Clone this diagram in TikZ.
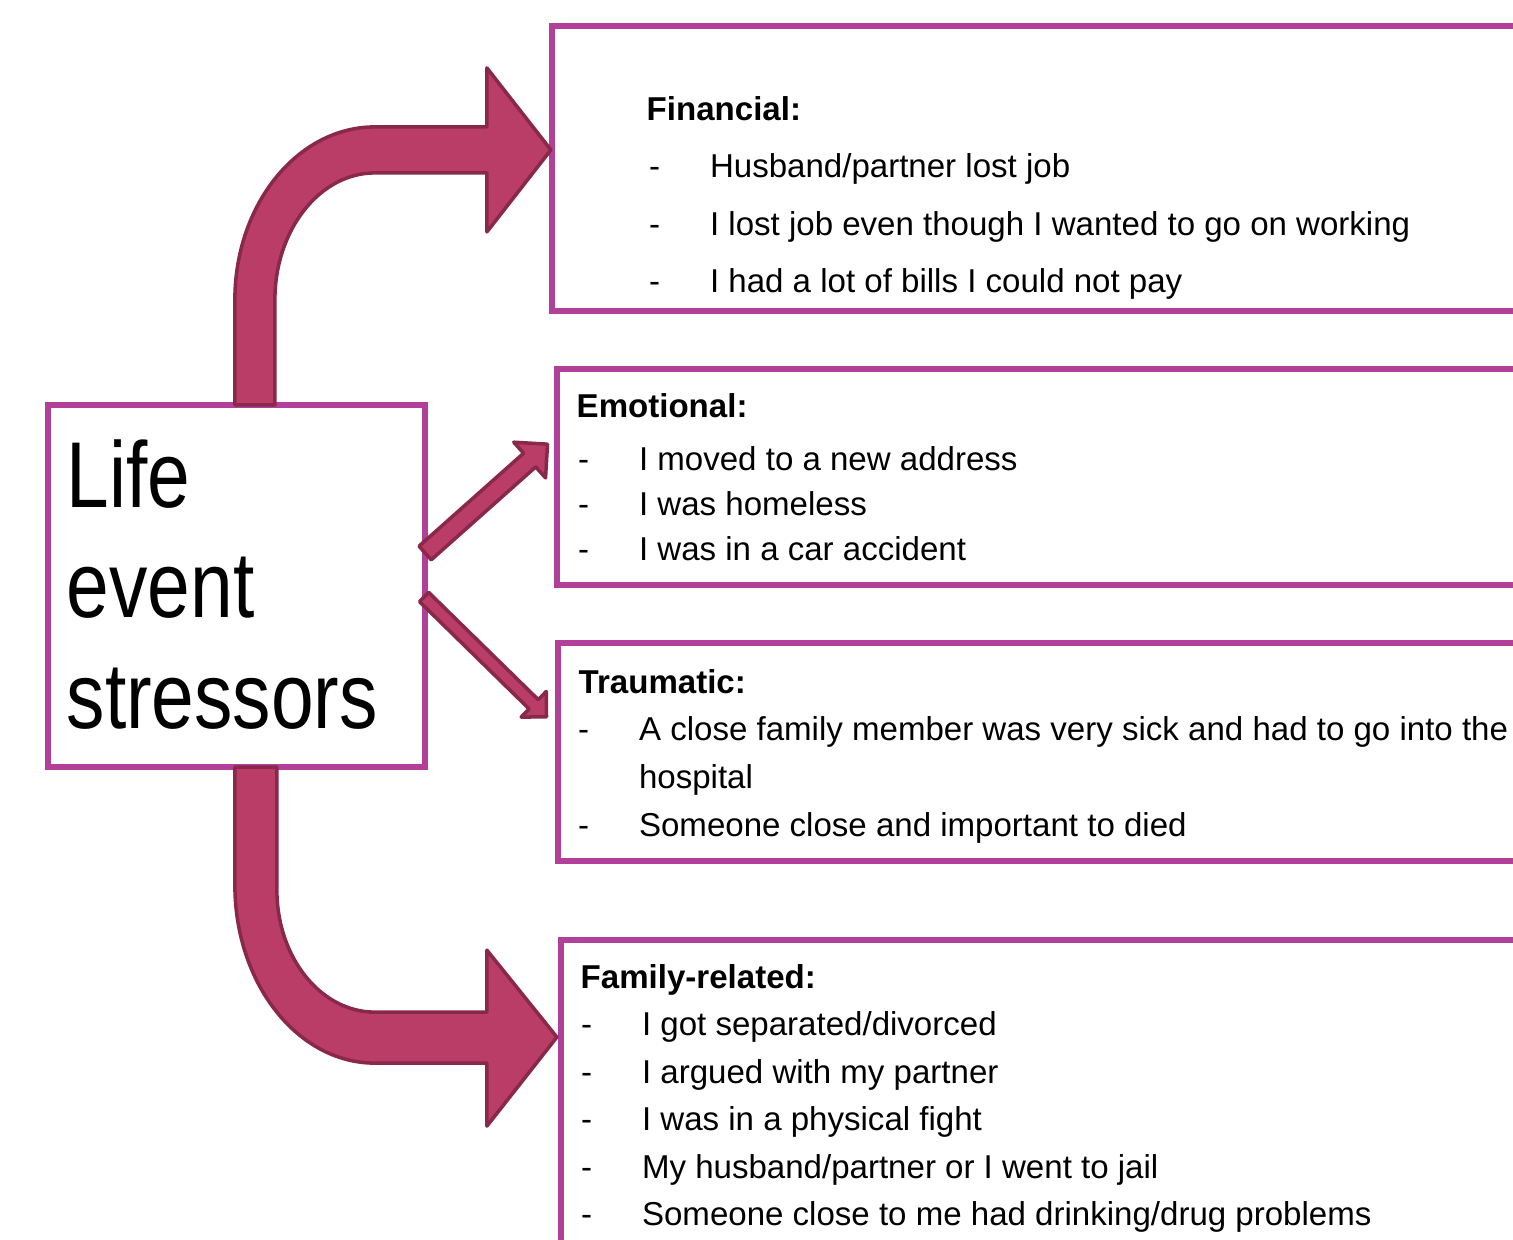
\documentclass[tikz,border=0pt]{standalone}
\usepackage{fontspec}
\setmainfont{Liberation Sans}
\newfontfamily\narrowfont[FakeStretch=0.82]{Liberation Sans}
\usetikzlibrary{calc}

\definecolor{boxPurple}{RGB}{178,64,154}
\definecolor{arrowFill}{RGB}{185,61,102}
\definecolor{arrowLine}{RGB}{137,40,73}

% straight block arrow: from, to, half shaft, half head, head length
\newcommand{\blockarrow}[5]{%
  \path[thinArrow] let \p1=(#1), \p2=(#2),
      \n1={atan2(\y2-\y1,\x2-\x1)}, \n2={veclen(\x2-\x1,\y2-\y1)} in
    [shift={(\p1)}, rotate=\n1]
    (0pt,#3) -- ({\n2-#5},#3) -- ({\n2-#5},#4) -- ({\n2*1pt},0pt)
    -- ({\n2-#5},-#4) -- ({\n2-#5},-#3) -- (0pt,-#3) -- cycle;}

\begin{document}
\begin{tikzpicture}[x=0.01cm, y=-0.01cm]
    \tikzstyle{catBox} = [rectangle, draw=boxPurple, line width=1.7pt, fill=white,
                          inner sep=0pt, outer sep=0pt]
    \tikzstyle{bendArrow} = [fill=arrowFill, draw=arrowLine, line width=1pt, line join=round]
    \tikzstyle{thinArrow} = [fill=arrowFill, draw=arrowLine, line width=1pt, line join=round]
    \tikzstyle{headText} = [anchor=base west, inner sep=0pt,
                            font=\fontsize{9.4}{11}\selectfont\bfseries]
    \tikzstyle{itemText} = [anchor=base west, inner sep=0pt, font=\fontsize{9.4}{11}\selectfont]
    \tikzstyle{bigText} = [anchor=base west, inner sep=0pt,
                           font=\narrowfont\fontsize{26.6}{32}\selectfont]
    \useasboundingbox (0,0) rectangle (1513,1239);
    \clip (0,0) rectangle (1513,1239);

    % boxes
    \node[catBox, minimum width=3.77cm, minimum height=3.62cm] (life) at (236.5,586) {};
    \node[catBox, minimum width=10.48cm, minimum height=2.85cm] (fin) at (1076,168.5) {};
    \node[catBox, minimum width=10.43cm, minimum height=2.16cm] (emo) at (1078.5,477) {};
    \node[catBox, minimum width=10.42cm, minimum height=2.18cm] (trau) at (1079,752) {};
    \node[catBox, minimum width=10.39cm, minimum height=3.6cm] (fam) at (1080.5,1120) {};

    % bent arrows
    \draw[bendArrow] ($(life.north west)+(187,0)$) -- ++(0,-105)
        .. controls +(0,-95.5) and +(-77.3,0) .. ++(140,-173) -- ++(112,0)
        -- ++(0,-59) -- ++(64,82) -- ++(-64,82) -- ++(0,-59) -- ++(-112,0)
        .. controls +(-55.2,0) and +(0,-70.1) .. ++(-100,127) -- ++(0,105) -- cycle;
    \draw[bendArrow] ($(life.south west)+(187,0)$) -- ++(0,118)
        .. controls +(0,98.3) and +(-77.3,0) .. ++(140,178) -- ++(112,0)
        -- ++(0,63) -- ++(70,-89) -- ++(-70,-87) -- ++(0,62) -- ++(-112,0)
        .. controls +(-54.1,0) and +(0,67.4) .. ++(-98,-122) -- ++(0,-123) -- cycle;

    % straight arrows
    \blockarrow{$(life.east)+(0,-33)$}{$(emo.west)+(-9,-33)$}{2.6pt}{6.8pt}{6.8pt}
    \blockarrow{$(life.east)+(-1,11)$}{$(trau.west)+(-11,-35)$}{1.85pt}{5.1pt}{5.1pt}

    % texts
    \foreach \y/\w [count=\i] in {507/Life, 617/event, 728/stressors}
        \node[bigText] (life-\i) at (66,\y) {\w};

    \node[headText] (fin-0) at (646,120) {Financial:};
    \foreach \y/\t [count=\i] in {177/{Husband/partner lost job},
                                  235/{I lost job even though I wanted to go on working},
                                  292/{I had a lot of bills I could not pay}}
        \node[itemText] (fin-\i) at (648.5,\y) {\makebox[17.3pt][l]{-}\t};

    \node[headText] (emo-0) at (576,417) {Emotional:};
    \foreach \y/\t [count=\i] in {470/{I moved to a new address},
                                  515/{I was homeless},
                                  560/{I was in a car accident}}
        \node[itemText] (emo-\i) at (577.5,\y) {\makebox[17.3pt][l]{-}\t};

    \node[headText] (trau-0) at (578,693) {Traumatic:};
    \node[itemText] (trau-1) at (577.5,740)
        {\makebox[17.3pt][l]{-}A close family member was very sick and had to go into the};
    \node[itemText] (trau-2) at (577.5,788) {\makebox[17.3pt][l]{}hospital};
    \node[itemText] (trau-3) at (577.5,836) {\makebox[17.3pt][l]{-}Someone close and important to died};

    \node[headText] (fam-0) at (580,988) {Family-related:};
    \foreach \y/\t [count=\i] in {1035/{I got separated/divorced},
                                  1083/{I argued with my partner},
                                  1130/{I was in a physical fight},
                                  1178/{My husband/partner or I went to jail},
                                  1225/{Someone close to me had drinking/drug problems}}
        \node[itemText] (fam-\i) at (580.5,\y) {\makebox[17.3pt][l]{-}\t};
\end{tikzpicture}
\end{document}
